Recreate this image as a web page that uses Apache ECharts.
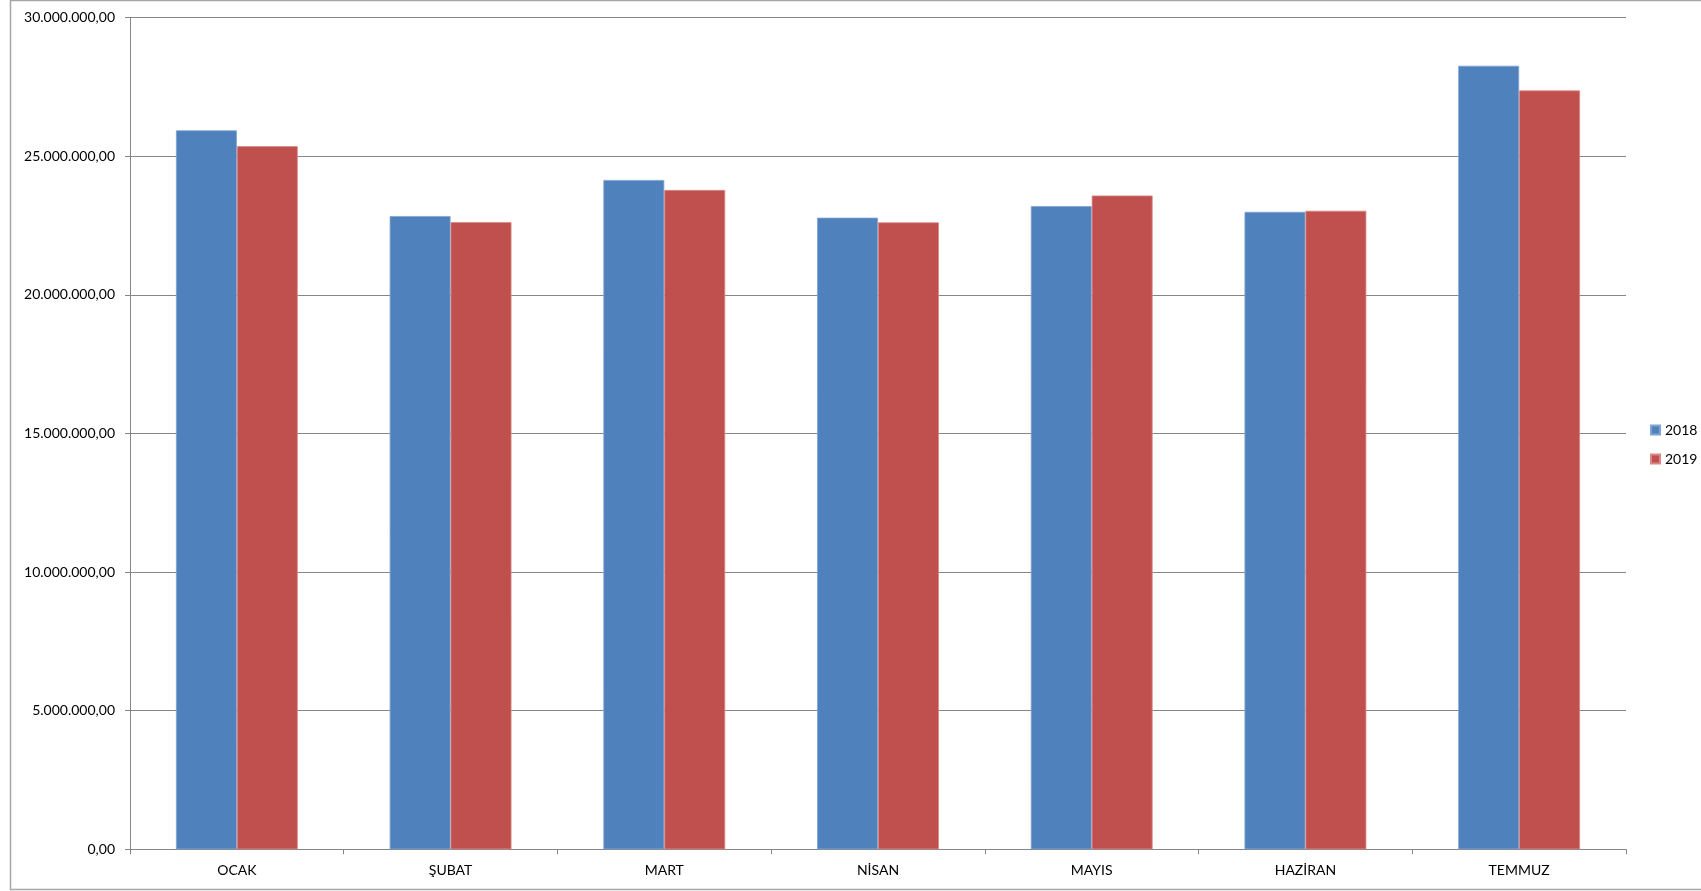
<!DOCTYPE html>
<html>
<head>
<meta charset="utf-8">
<script src="https://cdn.jsdelivr.net/npm/echarts@6/dist/echarts.min.js"></script>
<style>
html,body{margin:0;padding:0;background:#fff;}
#chart{width:1701px;height:891px;}
</style>
</head>
<body>
<div id="chart"></div>
<script>
const categories = ['OCAK', 'ŞUBAT', 'MART', 'NİSAN', 'MAYIS', 'HAZİRAN', 'TEMMUZ'];
const series2018 = [25930000, 22840000, 24140000, 22780000, 23200000, 22990000, 28260000];
const series2019 = [25360000, 22620000, 23780000, 22610000, 23580000, 23030000, 27370000];
const yMin = 0, yMax = 30000000, yInterval = 5000000;

function trFormat(v) {
  const parts = Math.round(v).toString().replace(/\B(?=(\d{3})+(?!\d))/g, '.');
  return parts + ',00';
}

const chart = echarts.init(document.getElementById('chart'));
const font = 'Lato, "Open Sans", sans-serif';
chart.setOption({
  animation: false,
  backgroundColor: '#fff',
  textStyle: { fontFamily: font },
  graphic: [{
    type: 'rect',
    shape: { x: 10.5, y: 0.5, width: 1740, height: 889 },
    style: { fill: 'none', stroke: '#a6a6a6', lineWidth: 1.5 },
    silent: true, z: -1
  }],
  grid: { left: 130, right: 75, top: 17.5, bottom: 41.7 },
  legend: {
    orient: 'vertical',
    left: 1645, top: 418,
    itemWidth: 9, itemHeight: 9, itemGap: 15,
    icon: 'rect',
    textStyle: { fontSize: 14, color: '#000', fontFamily: font },
    data: ['2018', '2019']
  },
  xAxis: {
    type: 'category',
    data: categories,
    axisLine: { lineStyle: { color: '#868686', width: 1 } },
    axisTick: { show: true, length: 5, inside: false, alignWithLabel: false, lineStyle: { color: '#868686' } },
    axisLabel: { color: '#000', fontSize: 14, margin: 14, fontFamily: font }
  },
  yAxis: {
    type: 'value',
    min: yMin, max: yMax, interval: yInterval,
    axisLine: { show: true, lineStyle: { color: '#868686', width: 1 } },
    axisTick: { show: true, length: 5, lineStyle: { color: '#868686' } },
    axisLabel: { color: '#000', fontSize: 14, margin: 15, fontFamily: font, formatter: trFormat },
    splitLine: { show: true, lineStyle: { color: '#868686', width: 1 } }
  },
  series: [
    {
      name: '2018', type: 'bar', data: series2018,
      barCategoryGap: '43%', barGap: '0%',
      itemStyle: { color: '#4F81BD', borderColor: '#7FA3D3', borderWidth: 0.8 }
    },
    {
      name: '2019', type: 'bar', data: series2019,
      barCategoryGap: '43%', barGap: '0%',
      itemStyle: { color: '#C0504D', borderColor: '#D98886', borderWidth: 0.8 }
    }
  ]
});
</script>
</body>
</html>
